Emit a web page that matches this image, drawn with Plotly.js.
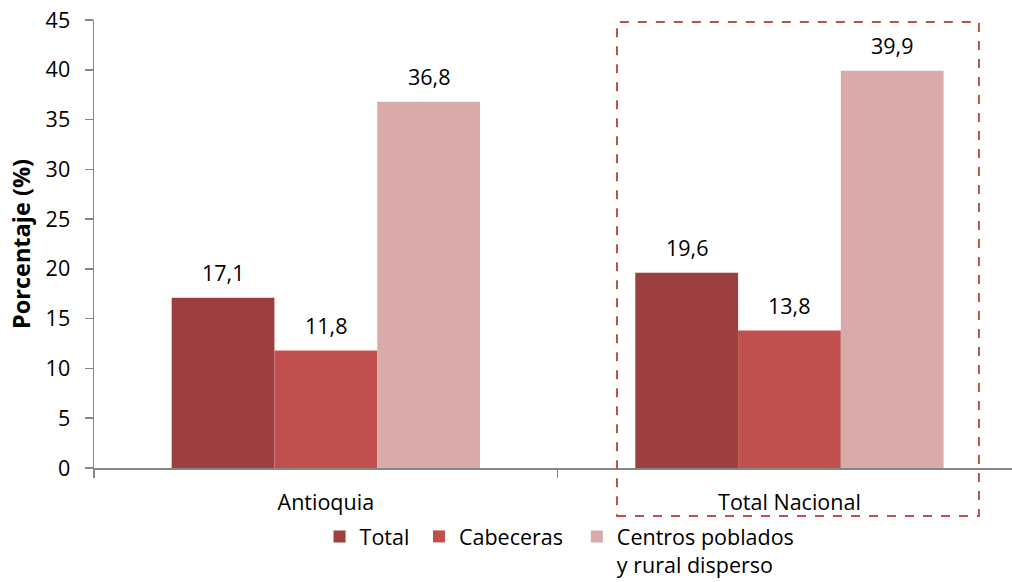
<!DOCTYPE html>
<html><head><meta charset="utf-8">
<script src="https://cdn.plot.ly/plotly-3.0.1.min.js"></script>
<style>html,body{margin:0;padding:0;background:#fff;}#chart{width:1012px;height:582px;}</style>
</head><body><div id="chart"></div>
<script>
var categories = ["Antioquia", "Total Nacional"];
var seriesNames = ["Total", "Cabeceras", "Centros poblados<br>y rural disperso"];
var totalValues = [17.1, 19.6];
var cabecerasValues = [11.8, 13.8];
var centrosValues = [36.8, 39.9];
var yTicks = [0, 5, 10, 15, 20, 25, 30, 35, 40, 45];

var colors = ["#9E3F3F", "#C0504D", "#D9AAAA"];
var allValues = [totalValues, cabecerasValues, centrosValues];
var fontFam = "Open Sans, sans-serif";
var fs = 21.5;
var bargap = 0.335;
var barW = (1 - bargap) / allValues.length;
var legendIds = ["legend", "legend2", "legend3"];
var legendX = [0.2457, 0.354, 0.526];

var traces = allValues.map(function(vals, i){
  return {
    type: "bar", x: categories, y: vals, name: seriesNames[i],
    marker: {color: colors[i]}, legend: legendIds[i],
    hoverinfo: "none"
  };
});

var annotations = [];
allValues.forEach(function(vals, i){
  vals.forEach(function(v, j){
    annotations.push({
      xref: "x", yref: "y", x: j + (i - 1) * barW, y: v,
      text: v.toFixed(1).replace(".", ","), showarrow: false,
      yanchor: "middle", yshift: 25,
      font: {family: fontFam, size: fs, color: "#000"}
    });
  });
});

var layout = {
  width: 1012, height: 582,
  margin: {l: 94, r: 0, t: 20, b: 114, autoexpand: false},
  paper_bgcolor: "#fff", plot_bgcolor: "#fff",
  barmode: "group", bargap: bargap, bargroupgap: 0,
  separators: ",.",
  font: {family: fontFam, size: fs, color: "#000"},
  showlegend: true,
  xaxis: {type: "category", range: [-0.5, 1.48], showline: true, linecolor: "#868686", linewidth: 1.5,
          ticks: "outside", tickson: "boundaries", ticklen: 8, tickcolor: "#868686", tickwidth: 1.5,
          ticklabelstandoff: 15, automargin: false,
          showgrid: false, zeroline: false, tickfont: {family: fontFam, size: fs, color: "#000"}},
  yaxis: {range: [0, 45], tickvals: yTicks, ticktext: yTicks.map(String), showline: true,
          linecolor: "#868686", linewidth: 1.5, ticks: "outside", ticklen: 8, tickcolor: "#868686", tickwidth: 1.5,
          ticklabelstandoff: 10, automargin: false,
          showgrid: false, zeroline: false, tickfont: {family: fontFam, size: fs, color: "#000"},
          title: {text: "<b>Porcentaje (%)</b>", font: {family: fontFam, size: 23.5, color: "#000"}, standoff: 8}},
  annotations: annotations,
  shapes: [{type: "rect", xref: "paper", yref: "paper", x0: 0.5697, x1: 0.964, y0: -0.107, y1: 0.9955,
            line: {color: "#C0504D", width: 2, dash: "dash"}, fillcolor: "rgba(0,0,0,0)"}]
};
legendIds.forEach(function(id, i){
  layout[id] = {orientation: "v", x: legendX[i], xanchor: "left", y: -0.107, yanchor: "top",
                font: {family: fontFam, size: fs, color: "#000"}, valign: "top",
                bgcolor: "rgba(0,0,0,0)", borderwidth: 0};
});

Plotly.newPlot("chart", traces, layout, {displayModeBar: false, staticPlot: true});
</script></body></html>
